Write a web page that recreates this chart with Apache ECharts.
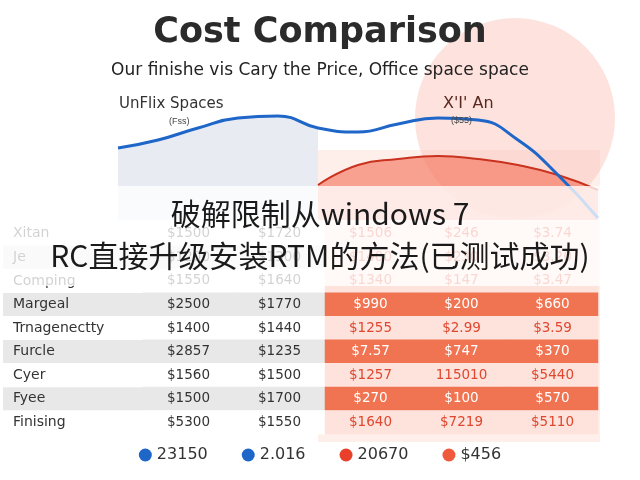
<!DOCTYPE html>
<html><head><meta charset="utf-8">
<script src="https://cdn.jsdelivr.net/npm/echarts@6/dist/echarts.min.js"></script>
<style>html,body{margin:0;padding:0;background:#fff}#c{width:640px;height:480px}</style>
</head><body><div id="c"></div>
<script>
const rows = ['Xitan','Jexnum','Comping','Margeal','Trnagenectty','Furcle','Cyer','Fyee','Finising'];
const cols = ['A','B','C','D','E'];
const col1 = ['$1500','$1200','$1550','$2500','$1400','$2857','$1560','$1500','$5300'];
const col2 = ['$1720','$1300','$1640','$1770','$1440','$1235','$1500','$1700','$1550'];
const col3 = ['$1506','$1400','$1340','$990','$1255','$7.57','$1257','$270','$1640'];
const col4 = ['$246','$230','$147','$200','$2.99','$747','115010','$100','$7219'];
const col5 = ['$3.74','$3.20','$3.47','$660','$3.59','$370','$5440','$570','$5110'];
const stripedRows = ['Jexnum','Margeal','Furcle','Fyee'];
const strongRows = ['Margeal','Furcle','Fyee'];
const curveX = ['a','b','c','d','e','f','g','h','i','j','k','l','m'];
const blueLine = [72,80,92,102,104,92,88,96,102,100,80,45,2];
const blueFill = [72,80,92,102,104,92];
const redLine = [null,null,null,null,null,35,55,61,64,61,55,45,30];
const legendNames = ['23150','2.016','20670','$456'];

const allCols = [col1,col2,col3,col4,col5];
const cells = [];
rows.forEach((r,ri)=>{
  allCols.forEach((c,ci)=>{
    const right = ci>=2, strong = strongRows.includes(r), striped = stripedRows.includes(r);
    let bg = right ? (strong ? '#f07452' : '#fde3dc') : (striped ? '#e8e8e8' : '#ffffff');
    let fc = right ? (strong ? '#ffffff' : '#e0472f') : '#333333';
    cells.push({value:[ci,ri,0], txt:c[ri], itemStyle:{color:bg}, label:{color:fc}});
  });
});

const chart = echarts.init(document.getElementById('c'));
chart.setOption({
  animation:false,
  title:[
    {text:'Cost Comparison',left:'center',top:10,textStyle:{fontSize:35,fontWeight:'bold',color:'#2b2b2b',fontFamily:'DejaVu Sans'}},
    {text:'Our finishe vis Cary the Price, Office space space',left:'center',top:57,textStyle:{fontSize:17,fontWeight:'normal',color:'#222',fontFamily:'DejaVu Sans'}},
    {text:'UnFlix Spaces',left:114,top:92,textStyle:{fontSize:15,fontWeight:'normal',color:'#333',fontFamily:'DejaVu Sans'}},
    {text:'(Fss)',left:164,top:112,textStyle:{fontSize:9,fontWeight:'normal',color:'#444'}},
    {text:"X'I' An",left:438,top:91,textStyle:{fontSize:16,fontWeight:'normal',color:'#5a2a20',fontFamily:'DejaVu Sans'}},
    {text:'($55)',left:446,top:111,textStyle:{fontSize:9,fontWeight:'normal',color:'#444'}}
  ],
  legend:{bottom:12,left:'center',itemGap:34,icon:'circle',itemWidth:13,itemHeight:13,
    textStyle:{fontSize:16,color:'#333',fontFamily:'DejaVu Sans'},data:legendNames},
  graphic:[
    {type:'circle',shape:{cx:515,cy:118,r:100},style:{fill:'rgba(250,190,180,0.45)'},z:-10,silent:true},
    {type:'rect',shape:{x:318,y:150,width:282,height:292},style:{fill:'rgba(253,228,222,0.6)'},z:-11,silent:true},
    {type:'rect',shape:{x:0,y:186,width:640,height:100},style:{fill:'rgba(255,255,255,0.78)'},z:100,silent:true},
    {type:'text',left:'center',top:199,z:101,style:{text:'破解限制从windows 7',fontSize:30,fill:'#1a1a1a',fontFamily:'Noto Sans CJK SC'}},
    {type:'text',left:'center',top:241,z:101,style:{text:'RC直接升级安装RTM的方法(已测试成功)',fontSize:30,fill:'#1a1a1a',fontFamily:'Noto Sans CJK SC'}}
  ],
  grid:[
    {left:118,right:42,top:100,height:120},
    {left:140,right:42,top:222,height:212}
  ],
  xAxis:[
    {gridIndex:0,type:'category',data:curveX,boundaryGap:false,show:false},
    {gridIndex:1,type:'category',data:cols,show:false}
  ],
  yAxis:[
    {gridIndex:0,type:'value',min:0,max:120,show:false},
    {gridIndex:1,type:'category',data:rows,inverse:true,
      axisLine:{show:false},axisTick:{show:false},
      axisLabel:{align:'left',margin:140,
        formatter:v=> (stripedRows.includes(v)?'{g|':'{w|')+(v==='Jexnum'?'Je':v)+'}',
        rich:{
          g:{backgroundColor:'#e8e8e8',width:130,height:23,lineHeight:23,padding:[0,0,0,10],fontSize:14,color:'#333',fontFamily:'DejaVu Sans'},
          w:{width:130,height:23,lineHeight:23,padding:[0,0,0,10],fontSize:14,color:'#333',fontFamily:'DejaVu Sans'}
        }}}
  ],
  series:[
    {name:'2.016',type:'line',xAxisIndex:0,yAxisIndex:0,data:blueFill,smooth:true,symbol:'none',
      lineStyle:{width:0},itemStyle:{color:'#1f66c9'},areaStyle:{color:'rgba(200,210,225,0.6)'}},
    {name:'$456',type:'line',xAxisIndex:0,yAxisIndex:0,data:redLine,smooth:true,symbol:'none',
      lineStyle:{width:0},itemStyle:{color:'#f05a3c'},areaStyle:{color:'rgba(245,100,75,0.8)'}},
    {name:'20670',type:'line',xAxisIndex:0,yAxisIndex:0,data:redLine,smooth:true,symbol:'none',
      lineStyle:{width:2,color:'#c8321e'},itemStyle:{color:'#e8402a'}},
    {name:'23150',type:'line',xAxisIndex:0,yAxisIndex:0,data:blueLine,smooth:true,symbol:'none',
      lineStyle:{width:3,color:'#1f66c9'},itemStyle:{color:'#1f66c9'}},
    {type:'heatmap',xAxisIndex:1,yAxisIndex:1,data:cells,
      label:{show:true,fontSize:13.5,fontFamily:'DejaVu Sans',formatter:p=>p.data.txt},
      itemStyle:{borderWidth:0}}
  ]
});
</script></body></html>
